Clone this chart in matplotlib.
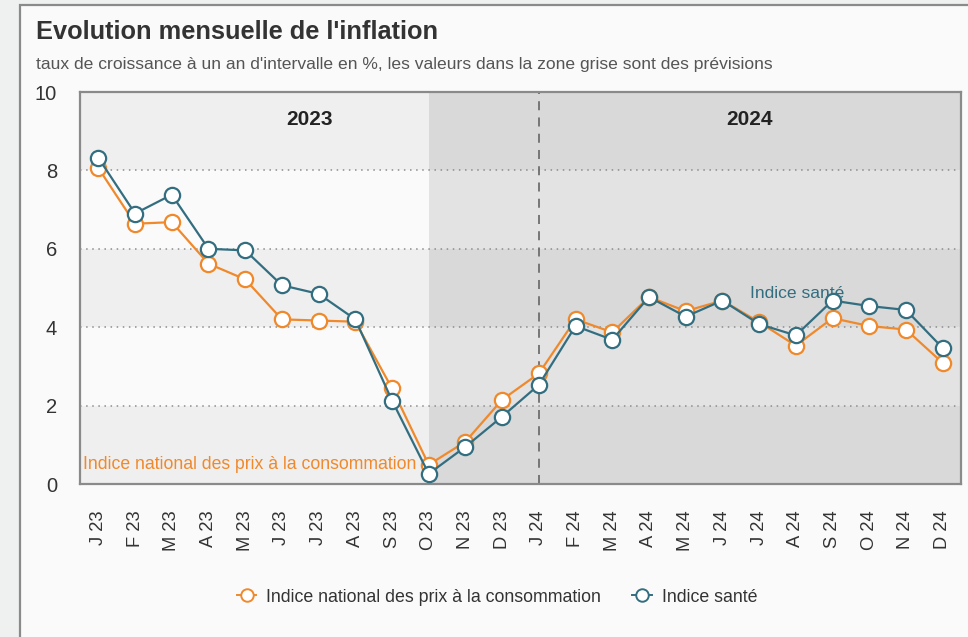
import matplotlib
matplotlib.use("Agg")
import matplotlib.pyplot as plt
from matplotlib.patches import Rectangle
from matplotlib.lines import Line2D

plt.rcParams['font.family'] = ['Liberation Sans', 'DejaVu Sans']

months = ["J 23", "F 23", "M 23", "A 23", "M 23", "J 23", "J 23", "A 23", "S 23", "O 23", "N 23", "D 23",
          "J 24", "F 24", "M 24", "A 24", "M 24", "J 24", "J 24", "A 24", "S 24", "O 24", "N 24", "D 24"]
ipc = [8.06, 6.64, 6.68, 5.62, 5.22, 4.20, 4.17, 4.14, 2.44, 0.49, 1.08, 2.15,
       2.82, 4.20, 3.87, 4.77, 4.41, 4.68, 4.13, 3.53, 4.23, 4.03, 3.94, 3.09]
sante = [8.32, 6.90, 7.38, 6.00, 5.96, 5.07, 4.85, 4.20, 2.13, 0.26, 0.95, 1.72,
         2.53, 4.03, 3.68, 4.77, 4.27, 4.68, 4.08, 3.79, 4.68, 4.54, 4.44, 3.47]
yticks = [0, 2, 4, 6, 8, 10]
years = ["2023", "2024"]
series_names = ["Indice national des prix à la consommation", "Indice santé"]
title = "Evolution mensuelle de l'inflation"
subtitle = "taux de croissance à un an d'intervalle en %, les valeurs dans la zone grise sont des prévisions"

ORANGE = "#f0892b"
BLUE = "#336e80"

W, H = 968, 637
fig = plt.figure(figsize=(W / 100, H / 100), dpi=100)
fig.patch.set_facecolor("#eff1f0")
# card
card = Rectangle((20 / W, -0.01), 1.0, 1.01 - 5 / H, transform=fig.transFigure,
                 facecolor="#fafafa", edgecolor="#8a8a8a", linewidth=1.6, zorder=-10)
fig.add_artist(card)

ax = fig.add_axes([80 / W, 1 - 484 / H, (961 - 80) / W, (484 - 92) / H])
ax.set_zorder(1)
n = len(months)
x = list(range(n))
ax.set_xlim(-0.5, n - 0.5)
ax.set_ylim(0, 10)
ax.set_facecolor("#fafafa")

fc_start = 9
# horizontal bands
for i, (lo, hi) in enumerate(zip(yticks[:-1], yticks[1:])):
    light = "#efefef" if i % 2 == 0 else "#fafafa"
    dark = "#d9d9d9" if i % 2 == 0 else "#e3e3e3"
    ax.axhspan(lo, hi, xmin=0, xmax=(fc_start + 0.5) / n, color=light, zorder=0, lw=0)
    ax.axhspan(lo, hi, xmin=(fc_start + 0.5) / n, xmax=1, color=dark, zorder=0, lw=0)

for yv in yticks[1:-1]:
    ax.axhline(yv, color="#8c8c8c", linestyle=(0, (1, 3)), linewidth=1.1, zorder=1)

ax.axvline(12, color="#6e6e6e", linestyle=(0, (5, 4)), linewidth=1.3, zorder=1)

ax.plot(x, ipc, color=ORANGE, linewidth=1.6, marker="o", markersize=11, markerfacecolor="white",
        markeredgecolor=ORANGE, markeredgewidth=1.6, zorder=3, clip_on=False)
ax.plot(x, sante, color=BLUE, linewidth=1.6, marker="o", markersize=11, markerfacecolor="white",
        markeredgecolor=BLUE, markeredgewidth=1.6, zorder=4, clip_on=False)

ax.text(5.75, 9.3, years[0], ha="center", va="center", fontsize=15, fontweight="bold", color="#222222")
ax.text(17.75, 9.3, years[1], ha="center", va="center", fontsize=15, fontweight="bold", color="#222222")

ax.text(-0.43, 0.5, series_names[0], ha="left", va="center", fontsize=12.7, color=ORANGE, zorder=2)
ax.text(17.76, 4.87, series_names[1], ha="left", va="center", fontsize=12.6, color=BLUE, zorder=2)

ax.set_yticks(yticks)
ax.set_yticklabels([str(v) for v in yticks])
ax.set_xticks(x)
ax.set_xticklabels(months, rotation=90)
ax.tick_params(axis="y", length=0, pad=16.5, labelsize=14.5, labelcolor="#333333")
ax.tick_params(axis="x", length=0, pad=19, labelsize=13.2, labelcolor="#333333")
for s in ax.spines.values():
    s.set_color("#8a8a8a")
    s.set_linewidth(1.6)

fig.text(36 / W, 1 - 32 / H, title, ha="left", va="center", fontsize=18.3, fontweight="bold", color="#333333")
fig.text(36 / W, 1 - 64 / H, subtitle, ha="left", va="center", fontsize=12.6, color="#555555")

handles = [Line2D([], [], color=ORANGE, marker="o", markersize=9, markerfacecolor="white",
                  markeredgecolor=ORANGE, markeredgewidth=1.4, linewidth=1.4),
           Line2D([], [], color=BLUE, marker="o", markersize=9, markerfacecolor="white",
                  markeredgecolor=BLUE, markeredgewidth=1.4, linewidth=1.4)]
fig.legend(handles, series_names, loc="center", bbox_to_anchor=(497 / W, 1 - 597 / H), ncol=2,
           frameon=False, fontsize=12.8, handlelength=1.1, columnspacing=1.75, handletextpad=0.55,
           labelcolor="#333333")

fig.savefig("out.png", dpi=100, facecolor=fig.get_facecolor())
